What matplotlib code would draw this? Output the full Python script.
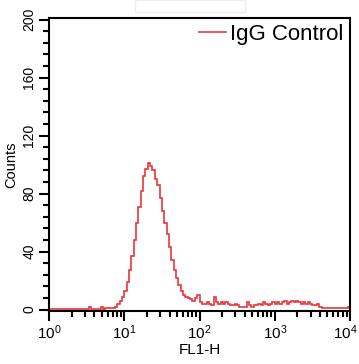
import numpy as np
import matplotlib
matplotlib.use("Agg")
import matplotlib.pyplot as plt
from matplotlib.ticker import MultipleLocator, FixedLocator, LogLocator, NullFormatter
from matplotlib.patches import Rectangle
from matplotlib.transforms import ScaledTranslation

plt.rcParams['font.family'] = ['Liberation Sans', 'DejaVu Sans']
plt.rcParams['mathtext.fontset'] = 'custom'
plt.rcParams['mathtext.rm'] = 'Liberation Sans'
plt.rcParams['mathtext.it'] = 'Liberation Sans'

# Histogram counts: 128 channels, 32 per decade, from 10^0 to 10^4
decade0 = [0.5, 0.5, 0.5, 0.5, 0.5, 0.5, 0.5, 0.5, 0.5, 0.5, 0.5, 0.5, 0.5, 0.5, 0.5, 0.5,
           0.5, 1.5, 0.5, 0.5, 0.5, 0.5, 1.5, 0.5, 1.0, 1.0, 1.2, 1.2, 2.0, 4.0, 6.0, 9.0]
decade1 = [13, 19, 27, 37, 48, 60, 71, 82, 92, 97, 101, 99, 96, 90, 86, 77,
           68, 60, 52, 43, 34, 27, 22, 17, 13, 10, 9, 8, 7, 6, 8, 10]
decade2 = [5, 4, 4, 5, 4, 3, 9, 5, 4, 5, 4, 5, 4, 3, 3, 4,
           3, 2, 2, 2, 5, 3, 2, 3, 3, 4, 3, 5, 4, 3, 4, 5]
decade3 = [4, 5, 4, 5, 6, 4, 5, 6, 5, 6, 5, 4, 5, 4, 5, 4,
           3, 3, 4, 2, 1, 1, 1, 1, 1, 1, 1, 1, 1, 1, 1, 2]
counts = np.array(decade0 + decade1 + decade2 + decade3, dtype=float)
edges = np.logspace(0, 4, len(counts) + 1)

series_label = "IgG Control"
x_label = "FL1-H"
y_label = "Counts"
xtick_values = [1, 10, 100, 1000, 10000]
xtick_labels = ['$10^{0}$', '$10^{1}$', '$10^{2}$', '$10^{3}$', '$10^{4}$']
ytick_values = [0, 40, 80, 120, 160, 200]

W, H = 359, 364
fig = plt.figure(figsize=(W / 100, H / 100), dpi=100)
ax = fig.add_axes([49 / W, (H - 311) / H, (350 - 49) / W, (311 - 17.5) / H])

color = '#e8373c'
ax.stairs(counts, edges, color=color, linewidth=1.2, label=series_label)

ax.set_xscale('log')
ax.set_xlim(1, 10000)
ax.set_ylim(-1, 201.5)

ax.xaxis.set_major_locator(FixedLocator(xtick_values))
ax.set_xticklabels(xtick_labels)
ax.xaxis.set_minor_locator(LogLocator(base=10, subs=np.arange(2, 10)))
ax.xaxis.set_minor_formatter(NullFormatter())

ax.yaxis.set_major_locator(FixedLocator(ytick_values))
ax.yaxis.set_minor_locator(MultipleLocator(8))
ax.tick_params(axis='y', which='major', labelrotation=90, labelsize=10, length=7, width=1.5, pad=2)
ax.tick_params(axis='y', which='minor', length=4, width=1.5)
ax.tick_params(axis='x', which='major', labelsize=11, length=7, width=1.5, pad=2)
ax.tick_params(axis='x', which='minor', length=4, width=1.5)
for lab in ax.get_yticklabels():
    lab.set_verticalalignment('center')

# keep the last x tick label inside the figure
last = ax.get_xticklabels()[-1]
last.set_transform(last.get_transform() + ScaledTranslation(-5 / 100, 0, fig.dpi_scale_trans))

for s in ax.spines.values():
    s.set_linewidth(1.5)

ax.set_xlabel(x_label, fontsize=11, labelpad=1)
ax.set_ylabel(y_label, fontsize=10.5, labelpad=3)

ax.legend(loc='upper right', frameon=False, fontsize=16, handlelength=1.2,
          handletextpad=0.2, borderaxespad=0.2, borderpad=0.1)

fig.patches.append(Rectangle((135 / W, 1 - 12 / H), 110 / W, 12 / H, transform=fig.transFigure,
                             fill=False, edgecolor='#eeeeee', linewidth=1))

fig.savefig('out.png', dpi=100)
